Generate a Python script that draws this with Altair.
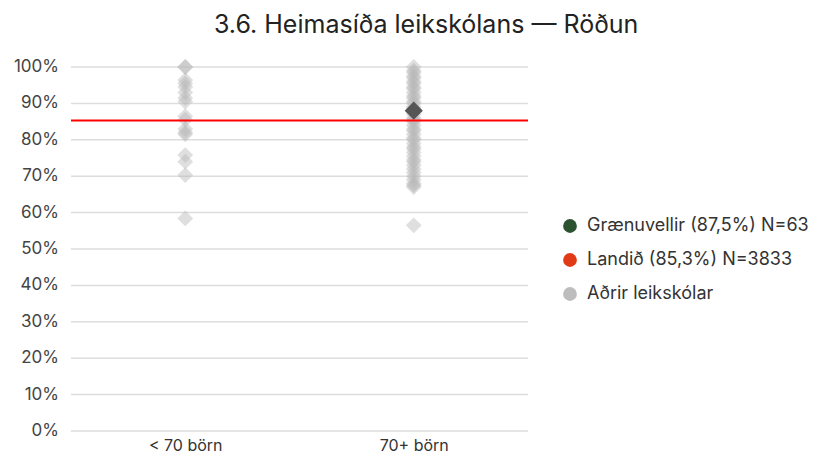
import altair as alt
import pandas as pd

categories = ["< 70 börn", "70+ börn"]
small_vals = [100, 100, 96.4, 95.5, 94.5, 93, 91.5, 90.5, 86.5, 85.5, 83, 82, 81.5, 75.8, 74, 70.3, 58.4]
large_vals = [100, 99, 98.5, 97.5, 97, 96, 95.5, 94.5, 94, 93, 92, 91.5, 90.5, 90, 89, 88.5,
              87, 86, 85.5, 85, 84, 83, 82.5, 81.5, 80.5, 80, 79, 78, 77.5, 76.5, 75.5, 74.5,
              74, 73, 72, 71, 70, 69, 68, 67.5, 67, 56.5]
highlight_cat = "70+ börn"
highlight_val = 88
national_val = 85.3
y_ticks = [0, 10, 20, 30, 40, 50, 60, 70, 80, 90, 100]
y_tick_labels = ["0%", "10%", "20%", "30%", "40%", "50%", "60%", "70%", "80%", "90%", "100%"]
legend_labels = ["Grænuvellir (87,5%) N=63", "Landið (85,3%) N=3833", "Aðrir leikskólar"]
legend_colors = ["#2d5230", "#e03a16", "#bdbdbd"]

FONT = "Inter"

others = pd.DataFrame(
    [{"cat": categories[0], "v": v} for v in small_vals]
    + [{"cat": categories[1], "v": v} for v in large_vals]
)
hl = pd.DataFrame([{"cat": highlight_cat, "v": highlight_val}])
nat = pd.DataFrame([{"v": national_val}])
ticks_df = pd.DataFrame({"v": y_ticks, "lab": y_tick_labels})
leg = pd.DataFrame([{"series": s, "cat": categories[0], "v": national_val} for s in legend_labels])

y_scale = alt.Scale(domain=[0, 100], nice=False, zero=True)
x_enc = alt.X("cat:N", sort=categories, scale=alt.Scale(type="point", padding=0.5, domain=categories),
              axis=alt.Axis(title=None, labelAngle=0, ticks=False, domain=False, grid=False,
                            labelFontSize=16, labelColor="#333", labelFont=FONT, labelPadding=6))
y_enc = alt.Y("v:Q", scale=y_scale, axis=None)

grid = alt.Chart(ticks_df).mark_rule(color="#dddddd", strokeWidth=1.5).encode(y=y_enc)
tick_text = alt.Chart(ticks_df).mark_text(align="right", baseline="middle", font=FONT, fontSize=17,
                                          color="#444").encode(
    x=alt.value(-12), y=y_enc, text="lab:N")
pts = alt.Chart(others).mark_point(shape="diamond", filled=True, size=250, color="#b8b8b8",
                                   opacity=0.45).encode(x=x_enc, y=y_enc)
rule = alt.Chart(nat).mark_rule(color="#ff0000", strokeWidth=2).encode(y=y_enc)
hlp = alt.Chart(hl).mark_point(shape="diamond", filled=True, size=330, color="#555555",
                               opacity=1).encode(x=x_enc, y=y_enc)
legend_layer = alt.Chart(leg).mark_point(filled=True, opacity=0, shape="circle").encode(
    x=x_enc, y=y_enc,
    color=alt.Color("series:N", sort=legend_labels,
                    scale=alt.Scale(domain=legend_labels, range=legend_colors),
                    legend=alt.Legend(title=None, orient="none", legendX=490, legendY=150,
                                      symbolType="circle", symbolSize=190, symbolOpacity=1,
                                      symbolStrokeWidth=0, labelFontSize=18, labelColor="#333",
                                      labelFont=FONT, rowPadding=16, labelOffset=8, labelLimit=400)))

chart = alt.layer(grid, pts, rule, hlp, legend_layer, tick_text).properties(
    width=457, height=364,
    title=alt.TitleParams("3.6. Heimasíða leikskólans — Röðun", fontSize=25, font=FONT,
                          fontWeight="normal", color="#222", anchor="start", dx=200, offset=20),
    background="white",
).configure_view(stroke=None)

chart.save("out.html", embed_options={"renderer": "svg", "actions": False})
